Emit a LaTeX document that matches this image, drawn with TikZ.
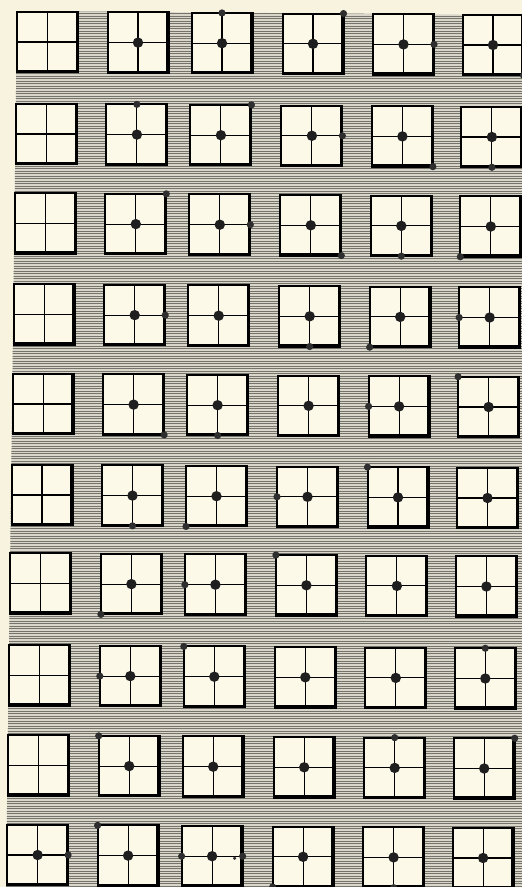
\documentclass[tikz,border=0pt]{standalone}
\usetikzlibrary{calc}
\definecolor{paper}{HTML}{F7F3DF}
\definecolor{boxcream}{HTML}{FCF9E9}
\definecolor{hatchbg}{HTML}{D9D6C9}
\definecolor{hatchln}{HTML}{74746D}
\tikzset{
  cell/.style={draw=black, line width=2pt, fill=boxcream, minimum width=61pt, minimum height=60.5pt, inner sep=0pt, outer sep=0pt},
  crossln/.style={line width=1.1pt, black},
  shadeln/.style={line width=2.6pt, black, line cap=round},
  bigdot/.style={fill=black!88},
  smalldot/.style={fill=black!82},
}
\begin{document}
\begin{tikzpicture}[x=1pt,y=-1pt]
\useasboundingbox (0,0) rectangle (522,887);
\fill[paper] (0,0) rectangle (522,887);
% hatched ground
\begin{scope}
  \clip (17,11) -- (522,15) -- (522,887) -- (6,887) -- cycle;
  \fill[hatchbg] (0,0) rectangle (522,887);
  \foreach \yy in {11,13.5,...,887} {
    \draw[hatchln, line width=0.9pt] (0,\yy) -- (522,\yy);
  }
\end{scope}
% boxes
\def\cxlist{{47.5,138,222,313,403.5,493}}
\def\cylist{{42,134,223.5,314.5,404,495,583.5,675.5,765.5,855}}
\foreach \r in {1,...,10} {
  \foreach \c in {1,...,6} {
    \pgfmathsetmacro\xx{\cxlist[\c-1]-1.1*(\r-1)}
    \pgfmathsetmacro\yy{\cylist[\r-1]+0.6*(\c-1)}
    \node[cell] (b\r-\c) at (\xx,\yy) {};
    \draw[crossln] (b\r-\c.north) -- (b\r-\c.south);
    \draw[crossln] (b\r-\c.west) -- (b\r-\c.east);
    \draw[shadeln] ($(b\r-\c.south west)+(1,-1)$) -- ($(b\r-\c.south east)+(-1,-1)$) -- ($(b\r-\c.north east)+(-1,1)$);
  }
}
% centre dots (all but column 1, except last row)
\foreach \r in {1,...,10} {
  \foreach \c in {2,...,6} {
    \fill[bigdot] (b\r-\c.center) circle (5.2pt);
  }
}
\fill[bigdot] (b10-1.center) circle (5.2pt);
% edge dots
\foreach \n/\a in {
  1-3/north, 1-4/north east, 1-5/east, 1-6/south east,
  2-2/north, 2-3/north east, 2-4/east, 2-5/south east, 2-6/south,
  3-2/north east, 3-3/east, 3-4/south east, 3-5/south, 3-6/south west,
  4-2/east, 4-4/south, 4-5/south west, 4-6/west,
  5-2/south east, 5-3/south, 5-5/west, 5-6/north west,
  6-2/south, 6-3/south west, 6-4/west, 6-5/north west,
  7-2/south west, 7-3/west, 7-4/north west,
  8-2/west, 8-3/north west, 8-6/north,
  9-2/north west, 9-5/north, 9-6/north east,
  10-1/east, 10-2/north west, 10-3/west, 10-3/east, 10-4/south west, 10-5/south} {
  \fill[smalldot] (b\n.\a) circle (3.6pt);
}
\fill[smalldot] ($(b10-3.east)+(-8,2)$) circle (1.8pt);
\end{tikzpicture}
\end{document}
